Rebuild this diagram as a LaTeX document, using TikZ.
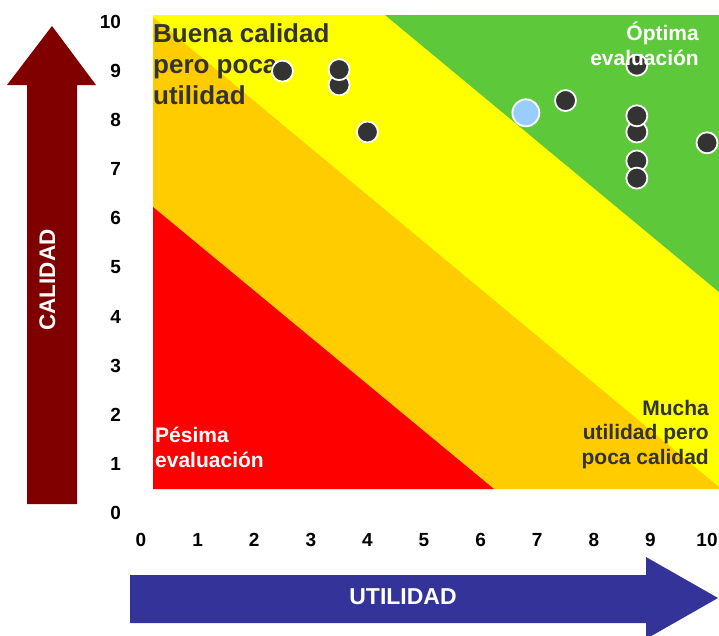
\documentclass[tikz,border=0pt]{standalone}
\usepackage{fontspec}
\setmainfont{Liberation Sans}
\definecolor{evalred}{HTML}{FF0000}
\definecolor{evalorange}{HTML}{FFCC00}
\definecolor{evalyellow}{HTML}{FFFF00}
\definecolor{evalgreen}{HTML}{5DC83A}
\definecolor{evaldark}{HTML}{333333}
\definecolor{evalblue}{HTML}{99CCFF}
\definecolor{evalmaroon}{HTML}{800000}
\definecolor{evalnavy}{HTML}{333399}
\tikzset{
  zone/.style={font=\bfseries\fontsize{21}{24.5}\selectfont, inner sep=0pt},
  axisnum/.style={font=\bfseries\fontsize{19}{21}\selectfont, inner sep=0pt},
  dot/.style={circle, fill=evaldark, draw=white, line width=1.8pt, minimum size=21pt, inner sep=0pt},
}

\begin{document}
\begin{tikzpicture}[x=1pt, y=-1pt]
\useasboundingbox (0,0) rectangle (719,635);
% zonas
\fill[evalyellow] (153,15) rectangle (719,489);
\fill[evalorange] (153,17) -- (719,487) -- (719,489) -- (153,489) -- cycle;
\fill[evalgreen] (385,15) -- (719,15) -- (719,292) -- cycle;
\fill[evalred] (153,207) -- (494,489) -- (153,489) -- cycle;
% flechas
\fill[evalmaroon] (27,504) -- (27,85) -- (7,85) -- (52,26) -- (96,85) -- (77,85) -- (77,504) -- cycle;
\fill[evalnavy] (130,575) -- (646,575) -- (646,557) -- (718,598) -- (646,639) -- (646,623) -- (130,623) -- cycle;
\node[font=\bfseries\fontsize{22.5}{26}\selectfont, text=white, rotate=90, anchor=base, inner sep=0pt] (calidad) at (55,280) {CALIDAD};
\node[font=\bfseries\fontsize{23}{26}\selectfont, text=white, anchor=base, inner sep=0pt] (utilidad) at (403,604) {UTILIDAD};
\node[zone, font=\bfseries\fontsize{26}{31}\selectfont, text=evaldark, align=left, anchor=base west] (buena) at (153,104) {Buena calidad\\pero poca\\utilidad};
% ejes y puntos
\begin{scope}[shift={(141,513)}, x=56.6pt, y=49.1pt]
\foreach \n in {0,...,10} {
  \node[axisnum, anchor=east] (y\n) at (-0.35,\n) {\n};
  \node[axisnum] (x\n) at (\n,-0.55) {\n};
}
\foreach \u/\v [count=\i] in {2.5/9, 3.5/8.72, 3.5/9.03, 4/7.76, 7.5/8.4, 8.76/9.12, 8.76/7.76, 8.76/8.09, 8.76/7.17, 8.76/6.82, 10/7.54}
  \node[dot] (d\i) at (\u,\v) {};
\node[dot, fill=evalblue, minimum size=27pt] (dblue) at (6.8,8.15) {};
\end{scope}
\node[zone, text=white, align=right, anchor=base east] (optima) at (699,65) {Óptima\\evaluación};
\node[zone, text=evaldark, align=right, anchor=base east] (mucha) at (709,464) {Mucha\\utilidad pero\\poca calidad};
\node[zone, text=white, align=left, anchor=base west] (pesima) at (155,467) {Pésima\\evaluación};
\end{tikzpicture}
\end{document}
